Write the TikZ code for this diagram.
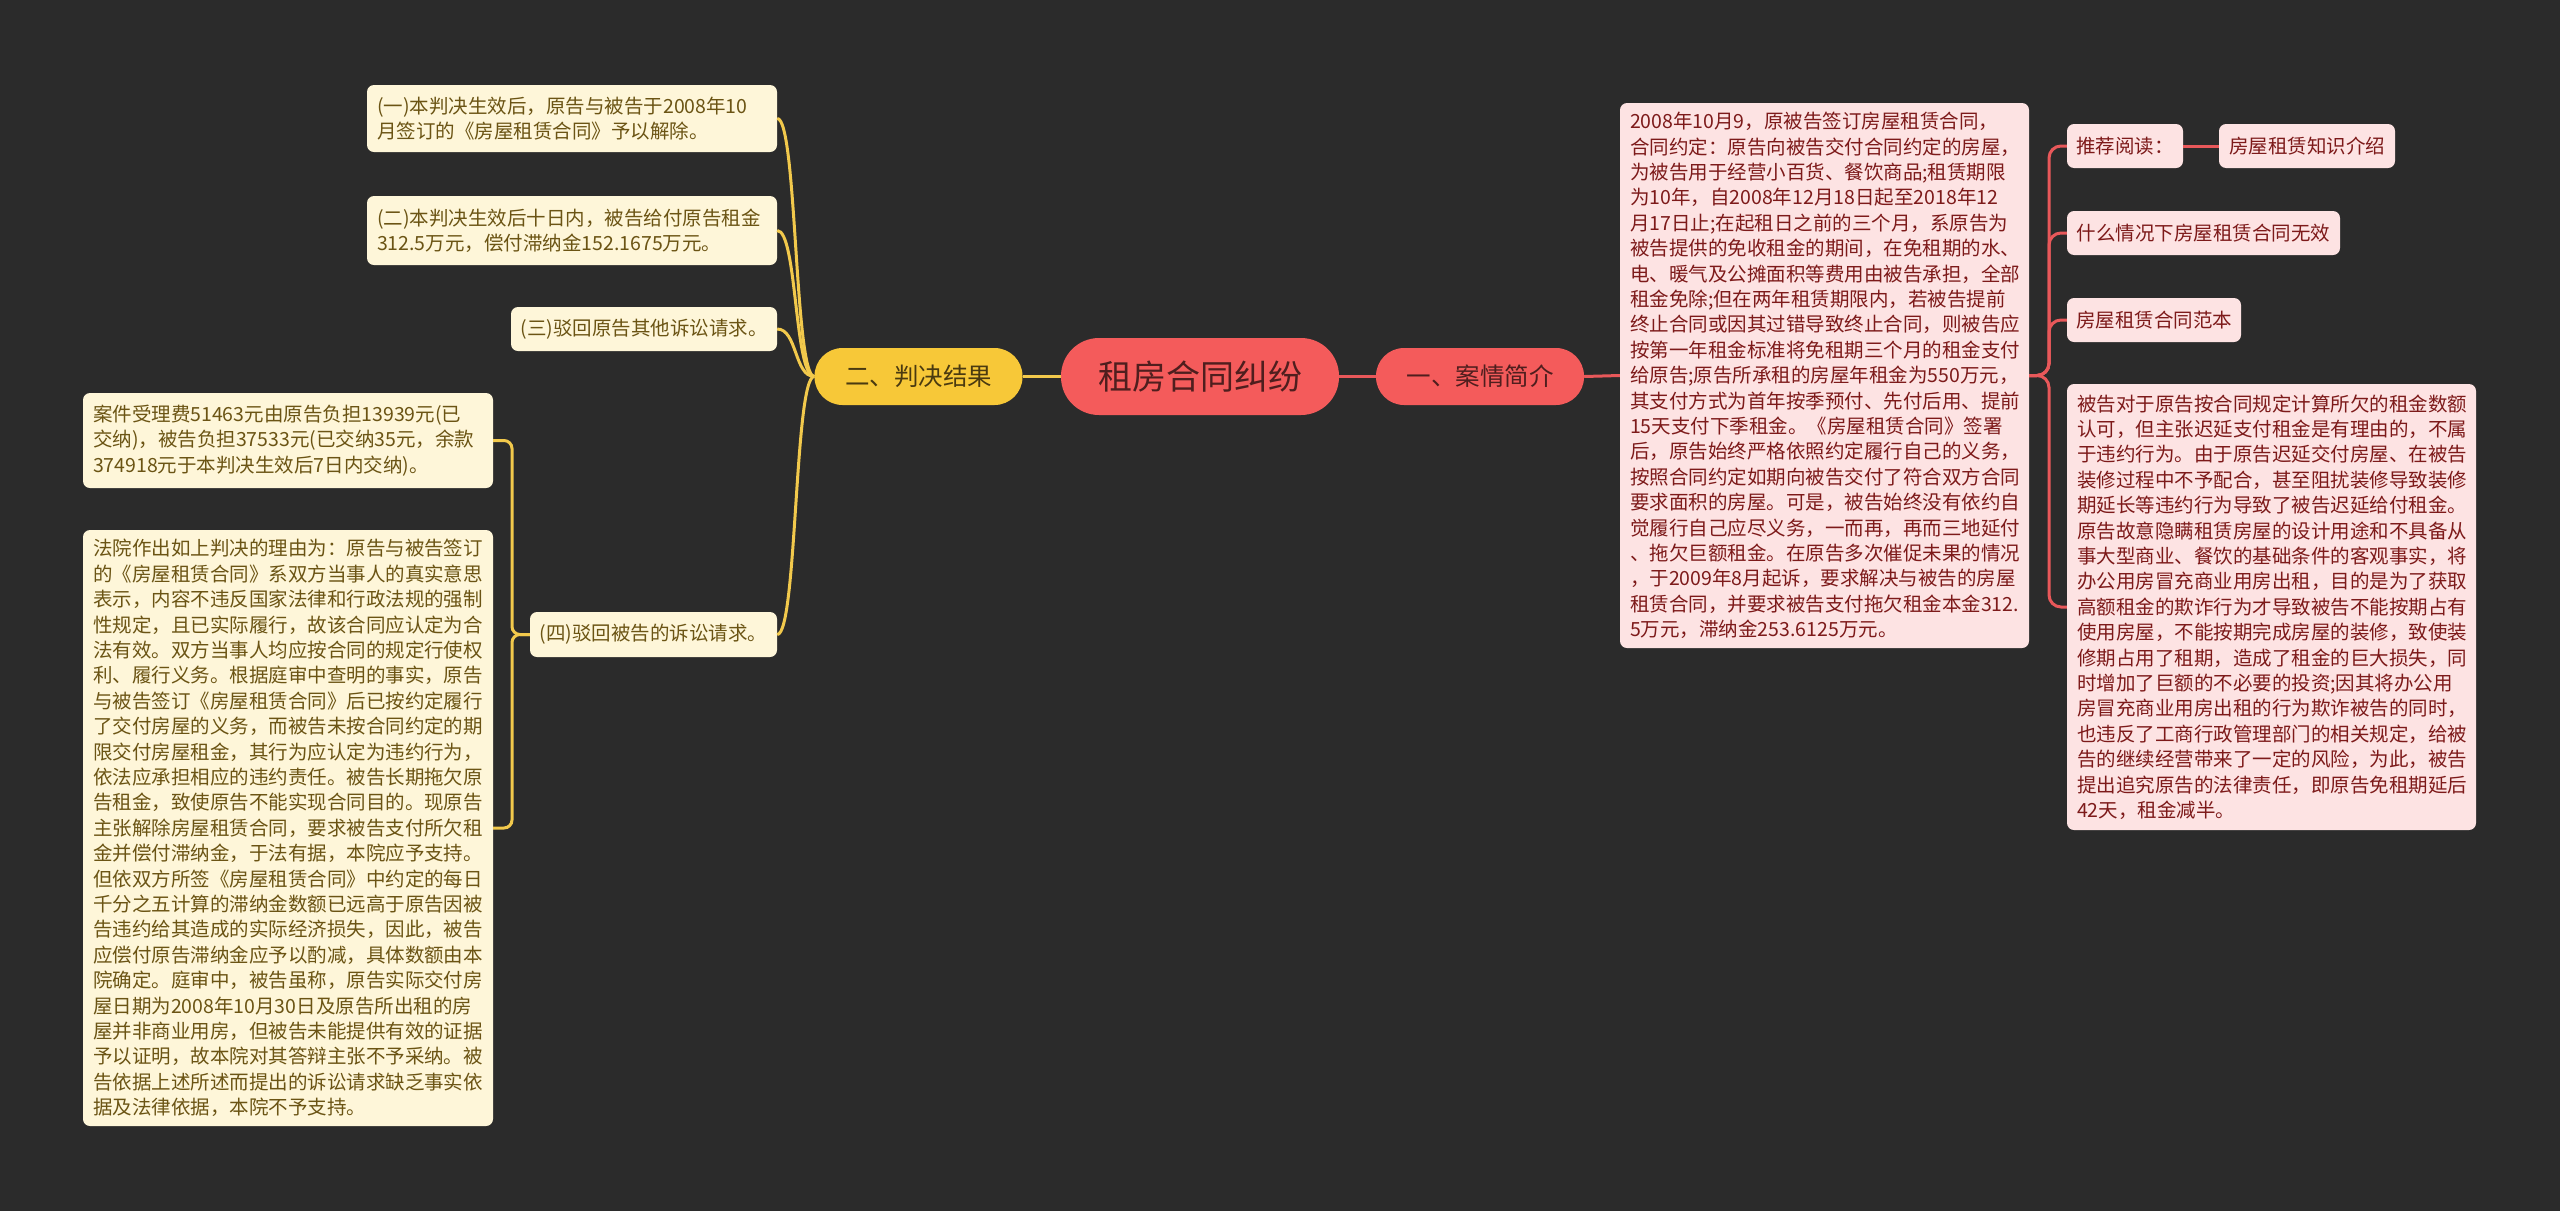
\documentclass[tikz,border=0pt]{standalone}
\usepackage{fontspec}
\newfontfamily\cjk{Noto Sans CJK SC}
\definecolor{bg}{HTML}{2B2B2B}
\definecolor{ycream}{HTML}{FEF6D9}
\definecolor{ytext}{HTML}{6B5414}
\definecolor{yline}{HTML}{F2C94C}
\definecolor{yfill}{HTML}{F7C838}
\definecolor{pfill}{HTML}{FDE3E3}
\definecolor{ptext}{HTML}{7D1A1A}
\definecolor{rline}{HTML}{E8585A}
\definecolor{rfill}{HTML}{F45B5B}
\definecolor{ctext}{HTML}{4F1E1E}
\definecolor{ytitle}{HTML}{4A3A10}
\tikzset{
  ybox/.style={fill=ycream, text=ytext, rounded corners=7pt, inner xsep=10pt, inner ysep=3pt,
    align=left, font={\cjk\fontsize{19.5pt}{25.4pt}\selectfont}},
  pbox/.style={fill=pfill, text=ptext, rounded corners=7pt, inner xsep=10pt, inner ysep=3pt,
    align=left, font={\cjk\fontsize{19.5pt}{25.4pt}\selectfont}},
  sbox/.style={inner sep=3pt, align=center},
  rootbox/.style={fill=rfill, text=ctext, rounded corners=38pt, inner sep=3pt,
    font={\cjk\fontsize{34pt}{40pt}\selectfont}},
  redsub/.style={fill=rfill, text=ctext, rounded corners=28pt, inner sep=3pt,
    font={\cjk\fontsize{24.5pt}{30pt}\selectfont}},
  yelsub/.style={fill=yfill, text=ytitle, rounded corners=28pt, inner sep=3pt,
    font={\cjk\fontsize{24.5pt}{30pt}\selectfont}},
  yc/.style={draw=yline, line width=3pt},
  rc/.style={draw=rline, line width=3pt},
}
\begin{document}
\begin{tikzpicture}[x=1pt,y=-1pt]
\fill[bg] (0,0) rectangle (2560,1211);
\useasboundingbox (0,0) rectangle (2560,1211);

% main nodes
\node[rootbox, minimum width=278, minimum height=77] (root) at (1200,376.5) {租房合同纠纷};
\node[redsub, minimum width=208, minimum height=57] (r1) at (1480,376.5) {一、案情简介};
\node[yelsub, minimum width=208, minimum height=57] (y0) at (918.5,376.5) {二、判决结果};

% left (yellow) children
\node[ybox, text width=390, minimum height=67] (Y1) at (572,118.5)
  {(一)本判决生效后，原告与被告于2008年10\\月签订的《房屋租赁合同》予以解除。};
\node[ybox, text width=390, minimum height=69] (Y2) at (572,230.5)
  {(二)本判决生效后十日内，被告给付原告租金\\312.5万元，偿付滞纳金152.1675万元。};
\node[ybox, sbox, minimum width=266, minimum height=44] (Y3) at (644,329)
  {(三)驳回原告其他诉讼请求。};
\node[ybox, sbox, minimum width=247, minimum height=45] (Y4) at (653.5,634.5)
  {(四)驳回被告的诉讼请求。};
\node[ybox, text width=390, minimum height=95] (F) at (288,440.5)
  {案件受理费51463元由原告负担13939元(已\\交纳)，被告负担37533元(已交纳35元，余款\\374918元于本判决生效后7日内交纳)。};
\node[ybox, text width=390, minimum height=596] (R) at (288,828)
  {法院作出如上判决的理由为：原告与被告签订\\
的《房屋租赁合同》系双方当事人的真实意思\\
表示，内容不违反国家法律和行政法规的强制\\
性规定，且已实际履行，故该合同应认定为合\\
法有效。双方当事人均应按合同的规定行使权\\
利、履行义务。根据庭审中查明的事实，原告\\
与被告签订《房屋租赁合同》后已按约定履行\\
了交付房屋的义务，而被告未按合同约定的期\\
限交付房屋租金，其行为应认定为违约行为，\\
依法应承担相应的违约责任。被告长期拖欠原\\
告租金，致使原告不能实现合同目的。现原告\\
主张解除房屋租赁合同，要求被告支付所欠租\\
金并偿付滞纳金，于法有据，本院应予支持。\\
但依双方所签《房屋租赁合同》中约定的每日\\
千分之五计算的滞纳金数额已远高于原告因被\\
告违约给其造成的实际经济损失，因此，被告\\
应偿付原告滞纳金应予以酌减，具体数额由本\\
院确定。庭审中，被告虽称，原告实际交付房\\
屋日期为2008年10月30日及原告所出租的房\\
屋并非商业用房，但被告未能提供有效的证据\\
予以证明，故本院对其答辩主张不予采纳。被\\
告依据上述所述而提出的诉讼请求缺乏事实依\\
据及法律依据，本院不予支持。};

% right (red) children
\node[pbox, text width=389, minimum height=545] (PB) at (1824.5,375.5)
  {2008年10月9，原被告签订房屋租赁合同，\\
合同约定：原告向被告交付合同约定的房屋，\\
为被告用于经营小百货、餐饮商品;租赁期限\\
为10年，自2008年12月18日起至2018年12\\
月17日止;在起租日之前的三个月，系原告为\\
被告提供的免收租金的期间，在免租期的水、\\
电、暖气及公摊面积等费用由被告承担，全部\\
租金免除;但在两年租赁期限内，若被告提前\\
终止合同或因其过错导致终止合同，则被告应\\
按第一年租金标准将免租期三个月的租金支付\\
给原告;原告所承租的房屋年租金为550万元，\\
其支付方式为首年按季预付、先付后用、提前\\
15天支付下季租金。《房屋租赁合同》签署\\
后，原告始终严格依照约定履行自己的义务，\\
按照合同约定如期向被告交付了符合双方合同\\
要求面积的房屋。可是，被告始终没有依约自\\
觉履行自己应尽义务，一而再，再而三地延付\\
、拖欠巨额租金。在原告多次催促未果的情况\\
，于2009年8月起诉，要求解决与被告的房屋\\
租赁合同，并要求被告支付拖欠租金本金312.\\
5万元，滞纳金253.6125万元。};
\node[pbox, sbox, minimum width=116, minimum height=44] (P1) at (2125,146) {推荐阅读：};
\node[pbox, sbox, minimum width=176, minimum height=44] (P1a) at (2307,146) {房屋租赁知识介绍};
\node[pbox, sbox, minimum width=273, minimum height=44] (P2) at (2203.5,233) {什么情况下房屋租赁合同无效};
\node[pbox, sbox, minimum width=174, minimum height=44] (P3) at (2154,320) {房屋租赁合同范本};
\node[pbox, text width=389, minimum height=446] (P4) at (2271.5,607)
  {被告对于原告按合同规定计算所欠的租金数额\\
认可，但主张迟延支付租金是有理由的，不属\\
于违约行为。由于原告迟延交付房屋、在被告\\
装修过程中不予配合，甚至阻扰装修导致装修\\
期延长等违约行为导致了被告迟延给付租金。\\
原告故意隐瞒租赁房屋的设计用途和不具备从\\
事大型商业、餐饮的基础条件的客观事实，将\\
办公用房冒充商业用房出租，目的是为了获取\\
高额租金的欺诈行为才导致被告不能按期占有\\
使用房屋，不能按期完成房屋的装修，致使装\\
修期占用了租期，造成了租金的巨大损失，同\\
时增加了巨额的不必要的投资;因其将办公用\\
房冒充商业用房出租的行为欺诈被告的同时，\\
也违反了工商行政管理部门的相关规定，给被\\
告的继续经营带来了一定的风险，为此，被告\\
提出追究原告的法律责任，即原告免租期延后\\
42天，租金减半。};

% connectors
\draw[rc] (root.east) -- (r1.west);
\draw[yc] (root.west) -- (y0.east);
\draw[rc] (r1.east) -- (PB.west);
\coordinate (rt) at (2049,375.5);
\foreach \n in {P1,P2,P3,P4}
  \draw[rc, rounded corners=12pt] (PB.east) -- (rt) |- (\n.west);
\draw[rc] (P1.east) -- (P1a.west);
\foreach \n in {Y1,Y2,Y3,Y4}
  \draw[yc] (y0.west) .. controls +(-20,0) and +(20,0) .. (\n.east);
\coordinate (lt) at (512,634.5);
\foreach \n in {F,R}
  \draw[yc, rounded corners=8pt] (Y4.west) -- (lt) |- (\n.east);
\end{tikzpicture}
\end{document}
